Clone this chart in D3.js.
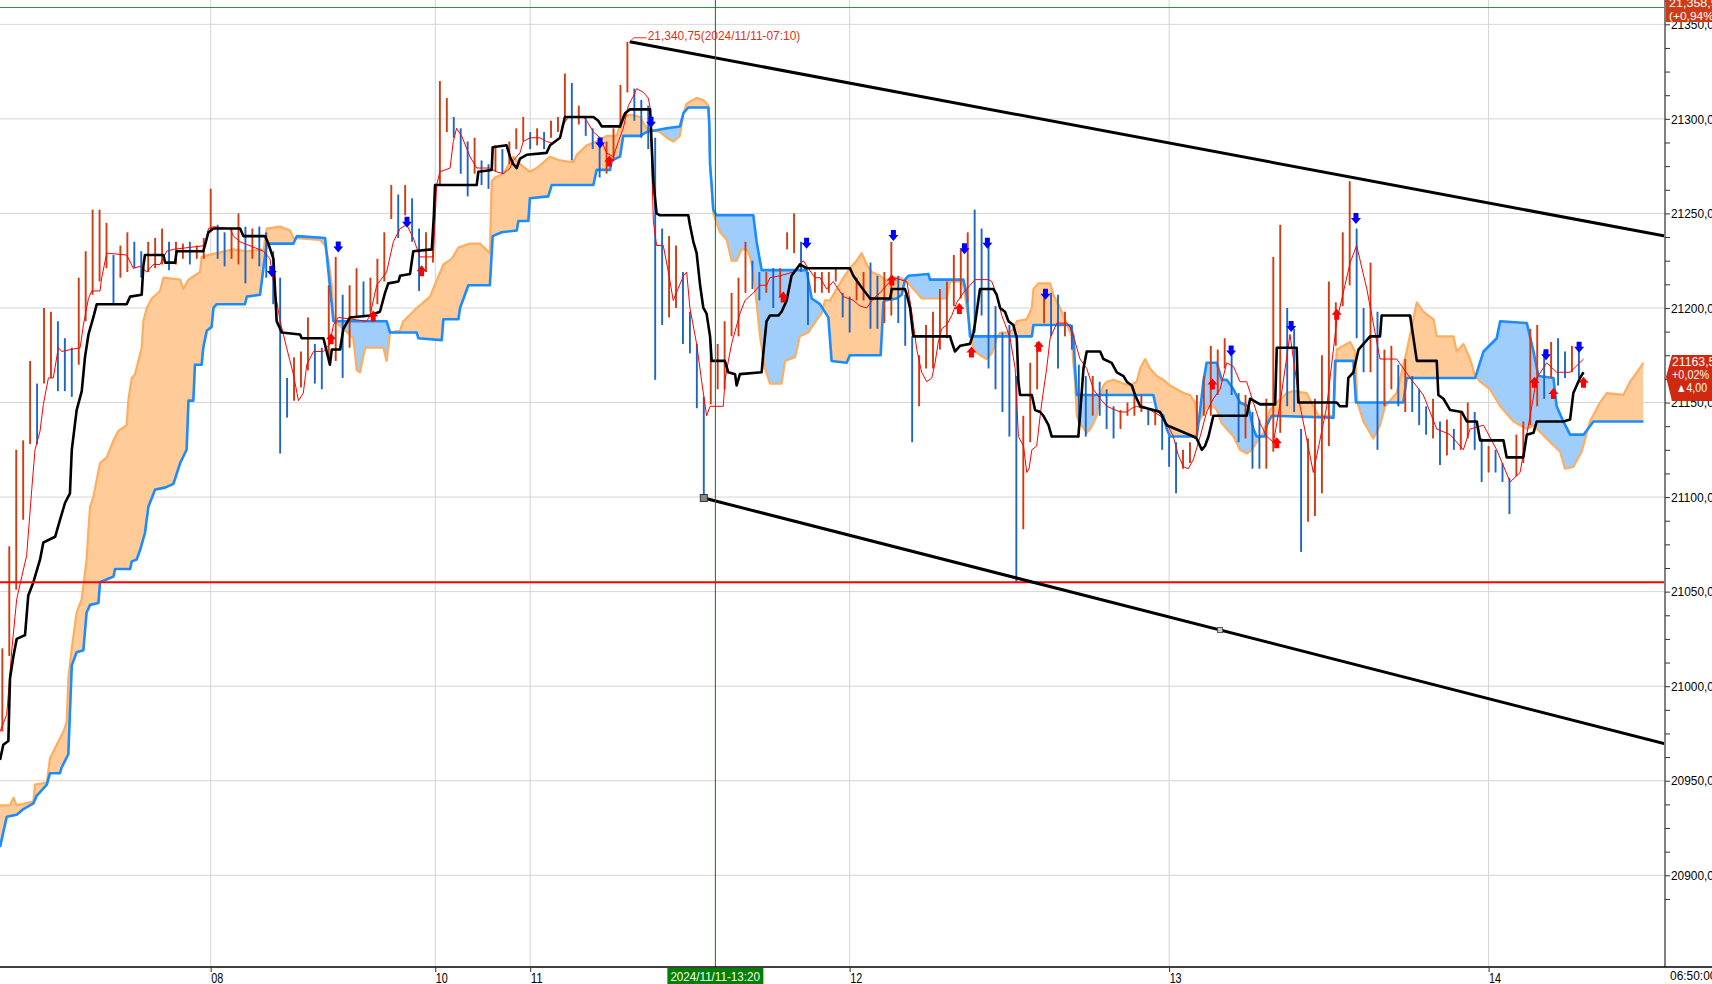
<!DOCTYPE html>
<html><head><meta charset="utf-8">
<script src="https://cdn.jsdelivr.net/npm/d3@7"></script>
<style>
html,body{margin:0;padding:0;background:#fff;overflow:hidden;}
svg{display:block;}
text{font-family:"Liberation Sans Narrow","Arial Narrow","Liberation Sans",sans-serif;}
</style></head><body>
<svg id="chart" width="1712" height="984"></svg>
<script>
// ---------------- DATA ----------------
// day labels on the time axis and the bar index (10-minute bars) where each day starts
const dayLabels = ["08","10","11","12","13","14"];
const dayStartBars = [0, 97, 138, 276, 414, 552];
// price axis labels
const priceTicks = [20900,20950,21000,21050,21100,21150,21200,21250,21300,21350];
const priceMinorStep = 12.5;

// price bars, sampled every 3 ten-minute bars starting at bar -90
const barStart = -90, barStep = 3;
const highs = [
21020,21074,21125,21130,21172,21160,21200,21198,21193,21184,
21179,21216,21230,21252,21252,21245,21228,21233,21240,21235,
21230,21235,21237,21242,21235,21235,21234,21235,21233,21237,
21263,21244,21240,21242,21250,21243,21242,21243,21240,21230,
21216,21163,21174,21177,21195,21181,21179,21212,21227,21207,
21212,21221,21214,21216,21226,21240,21265,21260,21265,21258,
21242,21240,21238,21320,21311,21301,21295,21288,21290,21278,
21276,21286,21284,21288,21295,21301,21293,21295,21293,21299,
21301,21324,21319,21307,21301,21295,21290,21288,21295,21318,
21340.75,21316,21310,21307,21290,21242,21238,21233,21219,21198,
21181,21153,21181,21181,21193,21208,21216,21235,21225,21219,
21219,21221,21221,21240,21250,21235,21219,21219,21219,21219,
21221,21208,21206,21216,21219,21224,21217,21219,
21235,21217,21207,21185,21175,21191,21198,21210,21214,21228,21231,21240,
21252,21242,21233,21201,21187,21191,21164,21143,21171,21182,
21210,21208,21207,21198,21191,21170,21164,21164,21161,21157,
21148,21146,21150,21154,21154,21146,21146,21143,21132,21129,
21125,21129,21154,21164,21180,21178,21184,21175,21155,21154,
21145,21141,21152,21227,21244,21200,21189,21136,21131,21152,
21175,21214,21203,21240,21267,21242,21200,21224,21198,21178,
21180,21170,21173,21164,21157,21148,21152,21140,21141,21136,
21145,21150,21145,21131,21127,21125,21118,21110,21133,21140,
21189,21191,21177,21182,21184,21177,21180,21182];
const lows = [
20976,21016,21051,21088,21128,21128,21160,21163,21156,21156,
21153,21170,21193,21207,21214,21221,21202,21216,21219,21221,
21216,21219,21221,21223,21220,21223,21226,21223,21226,21226,
21240,21226,21222,21226,21223,21213,21226,21222,21216,21202,
21123,21142,21151,21158,21167,21160,21157,21174,21172,21163,
21179,21195,21195,21198,21202,21214,21247,21237,21249,21235,
21209,21219,21224,21265,21293,21290,21271,21259,21271,21265,
21263,21272,21271,21276,21284,21288,21284,21286,21284,21290,
21293,21301,21278,21297,21291,21284,21269,21271,21278,21295,
21314,21299,21290,21284,21162,21191,21195,21200,21181,21176,
21147,21099.5,21149,21157,21157,21185,21185,21208,21210,21204,
21208,21200,21206,21231,21229,21219,21191,21208,21208,21208,
21214,21195,21187,21204,21204,21189,21189,21192,
21196,21192,21180,21129,21148,21168,21168,21178,21184,21201,21205,21203,
21187,21196,21168,21157,21145,21132,21055,21083,21129,21157,
21192,21185,21168,21185,21178,21139,21132,21143,21143,21136,
21131,21136,21143,21143,21145,21138,21138,21125,21116,21102,
21115,21118,21132,21143,21143,21154,21168,21154,21129,21131,
21115,21115,21115,21124,21134,21148,21145,21071,21087,21090,
21102,21127,21180,21201,21212,21184,21166,21166,21125,21148,
21157,21148,21145,21145,21138,21133,21131,21117,21122,21125,
21125,21131,21125,21108,21113,21113,21108,21091,21111,21118,
21138,21148,21152,21163,21159,21163,21166,21163];

// Ichimoku lines: [bar index, price]
const tenkan = [[-91,20976],[-88.1,20985],[-86,21018],[-83.8,21046],[-81.6,21058],[-79.5,21069],[-77.3,21104],[-75.9,21125],[-73.7,21135],[-72.3,21149],[-70.1,21163],[-68,21163],[-65.8,21179],[-64.4,21177],[-56.4,21179],[-55,21191],[-52.8,21205],[-51.4,21209],[-47.8,21209],[-47.1,21216],[-44.9,21229],[-36.3,21228],[-33.4,21221],[-30.5,21222],[-27.6,21219],[-24.8,21223],[-21.9,21223],[-19,21230],[-16.1,21231],[-2.4,21233],[-1,21242],[1.2,21243],[8.4,21242],[9.8,21238],[12.7,21235],[22.8,21230],[25.6,21226],[27.1,21214],[30,21193],[32.8,21179],[35.7,21165],[37.9,21151],[40,21155],[41.5,21170],[44.4,21177],[48.7,21177],[51.5,21181],[53,21191],[55.1,21195],[67.4,21193],[68.8,21196],[71.7,21212],[76,21219],[78.9,21235],[81.8,21242],[84.7,21244],[87.5,21237],[90.4,21227],[96.2,21227],[97.6,21265],[99,21272],[103.4,21274],[104.8,21288],[106.2,21295],[108.4,21291],[112,21280],[114.9,21274],[120.6,21274],[123.5,21272],[126.4,21271],[129.3,21274],[130.7,21278],[133.6,21282],[135,21288],[137.9,21290],[142.2,21290],[145.1,21288],[148,21287],[150.9,21290],[152.3,21297],[154.5,21301],[161,21301],[162.4,21299],[165.3,21293],[168.2,21290],[171,21282],[173.9,21280],[176.1,21288],[178.2,21295],[180.4,21307],[182.6,21312],[184,21316],[186.9,21314],[189,21311],[189.8,21306],[191.2,21246],[192.6,21233],[195.5,21233],[197.7,21219],[199.8,21204],[204.2,21217],[205.6,21219],[207,21200],[209.9,21181],[212.1,21161],[214.2,21143],[215.7,21148],[221.4,21148],[222.2,21162],[223.6,21172],[225,21181],[228.6,21197],[230.8,21204],[234.4,21208],[237.3,21212],[240.1,21212],[241.6,21216],[245.9,21217],[251.7,21219],[254.5,21223],[256,21225],[258.1,21221],[261,21216],[263.2,21216],[266.1,21210],[268.9,21214],[273.3,21206],[277.6,21204],[280.5,21201],[283.4,21200],[286.3,21205],[289.1,21208],[292,21212],[294.9,21216],[297.8,21215],[300.7,21214],[302.8,21198],[305,21178],[307.1,21166],[309.3,21161],[311.5,21163],[312.9,21171],[314.3,21182],[315.8,21189],[317.9,21191],[320.1,21196],[322.3,21203],[325.1,21208],[328,21212],[330.2,21215],[335.9,21215],[337.4,21214],[339.5,21207],[341.7,21196],[343.9,21189],[345.3,21184],[347.5,21168],[348.9,21132],[351.1,21127],[352.5,21113],[353.5,21115],[354.7,21125],[356.8,21127],[358.3,21143],[359,21150],[361.1,21168],[362.6,21184],[365.5,21192],[369.8,21192],[371.2,21190],[373.4,21182],[375.5,21173],[378.4,21168],[381.3,21157],[384.2,21152],[387.1,21148],[392.8,21145],[395.7,21145],[397.9,21147],[400,21148],[402.2,21147],[404.3,21147],[407.2,21145],[410.1,21143],[413,21139],[415.8,21132],[418,21122],[420.2,21116],[422.3,21115],[424.5,21120],[427.4,21132],[430.2,21145],[433.1,21152],[436,21157],[438.9,21171],[441.8,21169],[444.6,21161],[447.5,21161],[450.4,21150],[453.3,21139],[456.2,21132],[459.1,21129],[462,21150],[466.2,21186],[470.6,21148],[476.3,21113],[482.1,21148],[486.4,21193],[492.2,21224],[495,21233],[499.4,21210],[505.1,21173],[512.3,21173],[518.1,21163],[523.8,21154],[529.6,21136],[535.4,21133],[541.1,21125],[544,21136],[549.8,21138],[555.5,21125],[561.3,21108],[565.6,21113],[568.5,21133],[572.8,21163],[577.1,21171],[581.4,21166],[587.2,21166],[593,21173]];

const kijun = [[-91,20961],[-89.6,20969],[-87.4,20971],[-86.7,21004],[-85.2,21016],[-83.8,21025],[-80.2,21027],[-78.8,21048],[-76.6,21055],[-73.7,21067],[-72.3,21076],[-67.2,21079],[-65.1,21088],[-62.9,21097],[-60.8,21102],[-60,21125],[-57.9,21146],[-55.7,21156],[-54.3,21174],[-52.8,21186],[-50.7,21195],[-49.2,21202],[-36.3,21202],[-34.8,21206],[-29.8,21207],[-29.1,21222],[-28.4,21228],[-20.4,21228],[-19.7,21224],[-15.4,21224],[-14.7,21230],[-3.2,21230],[-1,21240],[1.2,21242],[12.7,21242],[14.1,21238],[23.5,21238],[24.9,21234],[27.1,21226],[28.5,21193],[30.7,21187],[38.6,21186],[39.3,21184],[48.7,21184],[50.1,21177],[51.5,21170],[52.3,21178],[55.9,21178],[57.3,21189],[60.2,21195],[68.8,21196],[73.1,21198],[75.3,21208],[76.7,21213],[81.1,21214],[81.8,21217],[86.1,21218],[87.5,21230],[95.5,21231],[96.4,21249],[96.9,21265],[114.9,21265],[115.6,21272],[121.4,21273],[121.8,21285],[127.8,21286],[129.3,21280],[130.7,21276],[132.2,21274],[133.6,21279],[136.5,21281],[145.1,21282],[146.6,21286],[150.9,21290],[153,21301],[165.3,21301],[167.4,21299],[168.9,21296],[176.8,21296],[179,21303],[181.1,21305],[189.8,21305],[191.2,21267],[192.6,21250],[194.1,21249],[206.3,21249],[207,21244],[208.5,21235],[209.9,21229],[211.4,21212],[212.8,21200],[214.2,21197],[215.7,21185],[216.4,21172],[222.1,21172],[223.6,21166],[226.5,21165],[227.2,21159],[228.6,21165],[238,21166],[238.7,21176],[240.1,21193],[241.6,21196],[245.2,21196],[246.6,21198],[248.8,21204],[250.9,21217],[254.5,21223],[257.4,21221],[276.1,21221],[277.6,21217],[280.5,21212],[284.8,21205],[293.5,21205],[294.2,21210],[299.9,21210],[300.7,21207],[302.1,21200],[303.5,21185],[319.4,21185],[320.1,21182],[321.5,21177],[323.7,21180],[328,21181],[329.5,21187],[330.2,21192],[332.3,21210],[338.1,21210],[339.5,21207],[341,21200],[343.1,21198],[344.6,21193],[346.7,21191],[348.2,21184],[348.9,21161],[349.6,21154],[354.7,21154],[356.1,21146],[358.3,21145],[359.7,21143],[361.9,21138],[363.3,21132],[374.8,21132],[375.5,21143],[377,21168],[378.4,21177],[384.2,21177],[385.6,21173],[389.2,21171],[391.4,21166],[394.3,21164],[395.7,21161],[397.9,21159],[399.3,21154],[401.5,21148],[404.3,21147],[407.2,21146],[410.1,21145],[413,21138],[424.5,21132],[425.9,21131],[428.1,21125],[429.5,21127],[431,21132],[433.1,21143],[447.5,21143],[449,21152],[453.3,21149],[459.8,21149],[460.5,21179],[469.1,21179],[469.8,21150],[486.4,21150],[487.8,21148],[490.7,21148],[491.4,21163],[493.6,21166],[495.8,21178],[500.8,21185],[505.1,21185],[505.8,21196],[518.1,21196],[521,21172],[529.6,21172],[530.3,21154],[532.5,21152],[535.4,21146],[540.4,21145],[542.6,21140],[546.9,21140],[548.3,21130],[558.4,21130],[559.8,21121],[567,21121],[568.5,21133],[571.4,21134],[572.8,21140],[584.3,21140],[587.2,21141],[588.6,21155],[591.5,21163],[593,21166]];

const spanA = [[-91,20937],[-86.7,20937],[-85.2,20941],[-83.8,20937],[-76.6,20939],[-75.9,20948],[-70.8,20949],[-69.4,20962],[-66.5,20969],[-63.6,20976],[-62.2,20981],[-61.5,21004],[-60,21020],[-57.9,21039],[-55.7,21046],[-53.6,21067],[-52.8,21083],[-52.1,21095],[-50.7,21100],[-47.8,21118],[-44.9,21121],[-42,21130],[-39.9,21135],[-36.3,21138],[-35.6,21151],[-34.1,21163],[-32.7,21165],[-29.8,21179],[-29.1,21193],[-27.6,21200],[-25.5,21205],[-21.9,21209],[-20.4,21216],[-13.2,21215],[-11.8,21210],[-9.6,21215],[-4.6,21219],[-3.9,21227],[2.6,21229],[9.8,21231],[15.6,21230],[22.8,21231],[24.2,21242],[30,21243],[34.3,21241],[35.7,21237],[47.2,21236],[49.4,21233],[50.8,21226],[52.3,21212],[53,21195],[54.4,21192],[57.3,21189],[61.6,21184],[63.1,21167],[64.5,21166],[66.7,21179],[74.6,21179],[76,21172],[77.5,21187],[81.8,21188],[83.2,21193],[89,21200],[94.7,21206],[100.5,21223],[104.1,21226],[107,21232],[112,21234],[116.3,21234],[120.6,21229],[121.4,21267],[122.8,21269],[126.4,21271],[130.7,21280],[133.6,21276],[137.9,21272],[140.8,21274],[146.6,21280],[150.9,21278],[156.6,21277],[158.1,21281],[162.4,21286],[166.7,21288],[171,21291],[175.4,21291],[176.8,21297],[178.2,21302],[182.6,21302],[185.4,21301],[188.3,21295],[194.1,21293],[197,21290],[199.8,21288],[202.7,21291],[204.2,21303],[205.6,21308],[209.9,21311],[212.8,21310],[215,21307],[215.7,21276],[217.1,21250],[220,21240],[222.9,21236],[225,21225],[227.2,21225],[229.3,21231],[231.5,21231],[233,21227],[234.4,21219],[237.3,21185],[239.4,21168],[241.6,21160],[246.6,21160],[248.1,21172],[252.4,21174],[254.5,21185],[258.1,21187],[262.5,21195],[263.9,21197],[265.3,21204],[267.5,21204],[270.4,21210],[273.3,21216],[276.1,21221],[279,21225],[281.2,21229],[283.4,21223],[285.5,21219],[289.1,21217],[291.3,21215],[293.5,21214],[294.9,21216],[297.8,21216],[300.7,21214],[302.1,21212],[305,21208],[307.1,21205],[317.9,21205],[319.4,21214],[323.7,21214],[325.1,21212],[328,21189],[329.5,21178],[332.3,21175],[335.2,21173],[337.4,21176],[339.5,21184],[341,21187],[345.3,21187],[346.7,21189],[348.2,21193],[352.5,21194],[354.7,21200],[355.4,21210],[357.5,21213],[362.6,21213],[364,21207],[366.9,21200],[369.8,21192],[371.9,21185],[372.7,21170],[373.4,21161],[374.1,21143],[375.5,21139],[378.4,21134],[379.9,21136],[381.3,21139],[382.7,21143],[383.5,21150],[385.6,21159],[387.1,21161],[389.9,21162],[394.3,21160],[397.1,21159],[400,21161],[401.5,21168],[403.6,21173],[405.8,21168],[408.6,21164],[411.5,21162],[414.4,21159],[417.3,21157],[420.2,21155],[423,21154],[425.2,21150],[425.9,21143],[426.6,21139],[430.2,21148],[433.1,21148],[434.6,21146],[436.7,21139],[438.9,21136],[441.8,21132],[444.6,21125],[447.5,21123],[449.7,21125],[451.8,21129],[454.7,21134],[457.6,21146],[460.5,21150],[464.8,21155],[467.7,21156],[473.4,21155],[476.3,21148],[478.5,21143],[485,21143],[486.4,21178],[492.2,21182],[494.3,21177],[495.3,21150],[497.9,21140],[502.2,21131],[505.1,21138],[507.3,21148],[512.3,21155],[516.6,21177],[521,21203],[523.8,21198],[528.2,21194],[529.6,21185],[536.8,21185],[538.2,21177],[541.1,21181],[544,21173],[546.2,21164],[548.3,21161],[552.6,21157],[557,21148],[562.7,21140],[568.5,21136],[571.4,21138],[578.6,21129],[582.9,21124],[585,21115],[588.6,21116],[592.2,21124],[595.8,21140],[600.1,21150],[603,21155],[610.2,21154],[613.1,21161],[616,21166],[618.9,21171]];

const spanB = [[-91,20915],[-88.1,20931],[-83.8,20932],[-80.9,20935],[-76.6,20938],[-75.2,20942],[-70.8,20948],[-69.4,20954],[-65.1,20954],[-64.4,20957],[-61.5,20964],[-60,21011],[-57.9,21018],[-55,21019],[-53.6,21039],[-52.1,21043],[-48.5,21044],[-47.8,21055],[-42,21058],[-41.3,21062],[-34.8,21062],[-34.1,21066],[-32,21067],[-30.5,21072],[-28.4,21081],[-26.9,21095],[-24,21104],[-19.7,21105],[-16.1,21107],[-13.2,21118],[-10.4,21125],[-9.6,21151],[-7.5,21151],[-6.8,21170],[-3.9,21170],[-3.2,21179],[-1.7,21188],[0.4,21190],[1.2,21200],[2.6,21202],[14.8,21202],[15.6,21206],[21.3,21207],[23.5,21228],[24.2,21234],[35.7,21234],[37.2,21238],[49.4,21237],[50.8,21220],[53,21193],[76,21193],[77.5,21187],[89,21187],[89.7,21184],[99.8,21183],[100.5,21194],[107,21194],[107.7,21200],[111.3,21212],[120.6,21212],[121.8,21238],[125.7,21240],[132.2,21241],[132.9,21246],[137.2,21246],[137.9,21258],[145.8,21259],[147.3,21265],[165.3,21265],[166,21269],[166.7,21273],[172.5,21273],[173.2,21278],[176.8,21280],[178.2,21291],[185.4,21291],[188.3,21293],[197,21295],[202.7,21296],[204.2,21303],[206.3,21306],[215,21306],[215.4,21297],[215.7,21276],[216.4,21265],[217.1,21252],[218.5,21249],[234.4,21249],[235.8,21235],[238,21220],[257.4,21220],[259.6,21205],[263.2,21202],[266.8,21195],[268.2,21172],[274.7,21171],[276.1,21175],[289.4,21175],[290.6,21203],[291.3,21204],[296.3,21205],[298.5,21207],[299.9,21215],[301.4,21217],[310,21218],[310.7,21215],[325.1,21215],[326.6,21207],[328,21185],[354.7,21185],[355.4,21191],[371.2,21191],[372.7,21185],[373.4,21168],[374.1,21154],[407.2,21154],[408.6,21146],[411.5,21143],[413,21136],[414.4,21132],[425.9,21132],[427.4,21146],[428.8,21161],[430.2,21171],[434.6,21171],[436.7,21162],[438.9,21162],[441.8,21157],[444.6,21150],[448.2,21148],[450.4,21136],[451.8,21132],[455.4,21132],[456.2,21138],[458.3,21143],[485,21142],[485.7,21172],[493.6,21172],[494.7,21150],[515.2,21150],[516.6,21163],[546.2,21163],[549.8,21177],[555.5,21184],[557,21193],[568.5,21192],[571.4,21177],[573.5,21164],[580,21163],[581.4,21148],[584.3,21140],[587.2,21133],[593,21133],[597.3,21140],[618.9,21140]];

// signals [bar index, price]
const sellSignals = [[26.4,21219],[55.1,21232],[84.8,21245],[168.2,21287],[190.2,21298],[257.4,21234],[294.9,21238],[325.6,21231],[335.5,21234],[360.6,21207],[440.8,21177],[466.7,21190],[494.7,21247],[576.8,21175],[591.1,21179]];
const buySignals = [[52,21184],[70.2,21196],[91.1,21220],[172.2,21278],[247.3,21206],[294.2,21215],[323.4,21200],[328.6,21177],[357.7,21180],[432.7,21160],[460.5,21129],[486.4,21197],[571.8,21161],[580,21155],[593,21161]];

// trend channel anchors and reference levels
const channelTop = [[181,21340.75],[492,21269.3]];
const channelBottom = [[213,21099.5],[436,21029.7]];
const supportLevel = 21055;
const prevHighLevel = 21358.9;
const cursorBar = 218;
const highLabel = "21,340,75(2024/11/11-07:10)";
const cursorLabel = "2024/11/11-13:20";
const lastTimeLabel = "06:50:00";
const topTag = ["21,358,9","(+0,94%)"];
const lastTag = ["21163,5","+0,02%","\u25B24,00"];
const lastPrice = 21163.5;

// ---------------- CHART ----------------
const W = 1712, H = 984, plotR = 1665, plotB = 967;
const FONT = '"Liberation Sans Narrow","Arial Narrow","Liberation Sans",sans-serif';
const svg = d3.select("#chart");
const x = d3.scaleLinear().domain([0, 552]).range([210.7, 1488.6]);
const y = d3.scaleLinear().domain([20900, 21350]).range([875.3, 24.3]);
const bMax = x.invert(plotR);

// narrow text: fixed advance per character
function narrow(sel, cw){
  sel.attr("textLength", function(){ return this.textContent.length * cw; })
     .attr("lengthAdjust","spacingAndGlyphs");
}

const defs = svg.append("defs");
defs.append("clipPath").attr("id","plotClip").append("rect")
  .attr("x",0).attr("y",0).attr("width",plotR).attr("height",plotB);

svg.append("rect").attr("width",W).attr("height",H).attr("fill","#fff");

// grid
const grid = svg.append("g");
grid.selectAll("line.h").data(priceTicks).join("line")
  .attr("x1",0).attr("x2",plotR).attr("y1",d=>y(d)).attr("y2",d=>y(d))
  .attr("stroke","#d4d4d4").attr("stroke-width",1);
grid.selectAll("line.v").data(dayStartBars).join("line")
  .attr("x1",d=>x(d)).attr("x2",d=>x(d)).attr("y1",0).attr("y2",plotB)
  .attr("stroke","#d4d4d4").attr("stroke-width",1);

const plot = svg.append("g").attr("clip-path","url(#plotClip)");

// cloud fills
const X = d => x(d[0]), Y = d => y(d[1]);
defs.append("clipPath").attr("id","aboveB").append("path")
  .attr("d", d3.area().x(X).y0(0).y1(Y)(spanB));
defs.append("clipPath").attr("id","aboveA").append("path")
  .attr("d", d3.area().x(X).y0(0).y1(Y)(spanA));
plot.append("path").attr("d", d3.area().x(X).y0(plotB).y1(Y)(spanA))
  .attr("fill","#ffcc99").attr("clip-path","url(#aboveB)");
plot.append("path").attr("d", d3.area().x(X).y0(plotB).y1(Y)(spanB))
  .attr("fill","#9fcdfc").attr("clip-path","url(#aboveA)");

const line = d3.line().x(X).y(Y);
plot.append("path").attr("d", line(spanA)).attr("fill","none")
  .attr("stroke","#ffad5e").attr("stroke-width",2.2).attr("stroke-linejoin","round");
plot.append("path").attr("d", line(spanB)).attr("fill","none")
  .attr("stroke","#1a8cff").attr("stroke-width",2.6).attr("stroke-linejoin","round");

// price bars
const bars = highs.map((h,i)=>({b: barStart + i*barStep, h, l: lows[i]}));
bars.forEach((d,i)=>{
  const prev = i>0 ? bars[i-1] : d;
  d.up = (d.h + d.l) >= (prev.h + prev.l);
});
plot.selectAll("line.bar").data(bars).join("line")
  .attr("x1",d=>x(d.b)).attr("x2",d=>x(d.b))
  .attr("y1",d=>y(d.h)).attr("y2",d=>y(d.l))
  .attr("stroke",d=>d.up ? "#d23a10" : "#1c66c8").attr("stroke-width",1.9);

// tenkan / kijun
plot.append("path").attr("d", line(tenkan)).attr("fill","none")
  .attr("stroke","#ff0000").attr("stroke-width",1);
plot.append("path").attr("d", line(kijun)).attr("fill","none")
  .attr("stroke","#000").attr("stroke-width",2.6).attr("stroke-linejoin","round");

// signals
const sellArrow = "M-2.5,-6 L2.5,-6 L2.5,-1 L5,-1 L0,5 L-5,-1 L-2.5,-1 Z";
const buyArrow = "M-2.5,6 L2.5,6 L2.5,1 L5,1 L0,-5 L-5,1 L-2.5,1 Z";
plot.selectAll("path.sell").data(sellSignals).join("path")
  .attr("d",sellArrow).attr("transform",d=>`translate(${X(d)},${Y(d)})`).attr("fill","#0000ff");
plot.selectAll("path.buy").data(buySignals).join("path")
  .attr("d",buyArrow).attr("transform",d=>`translate(${X(d)},${Y(d)})`).attr("fill","#ff0000");

// horizontal levels
plot.append("line").attr("x1",0).attr("x2",plotR).attr("y1",y(supportLevel)).attr("y2",y(supportLevel))
  .attr("stroke","#ff0000").attr("stroke-width",2);
plot.append("line").attr("x1",0).attr("x2",plotR).attr("y1",y(prevHighLevel)).attr("y2",y(prevHighLevel))
  .attr("stroke","#2f8f2f").attr("stroke-width",1);

// channel lines, extended to the right edge
function extend(p){
  const s = (p[1][1]-p[0][1])/(p[1][0]-p[0][0]);
  return [p[0], [bMax, p[0][1] + s*(bMax-p[0][0])]];
}
plot.append("path").attr("d", line(extend(channelTop))).attr("stroke","#000").attr("stroke-width",3).attr("fill","none");
plot.append("path").attr("d", line(extend(channelBottom))).attr("stroke","#000").attr("stroke-width",3).attr("fill","none");
plot.append("rect").attr("x",X(channelBottom[0])-3.5).attr("y",Y(channelBottom[0])-3.5).attr("width",7).attr("height",7)
  .attr("fill","#888").attr("stroke","#333").attr("stroke-width",1);
plot.append("rect").attr("x",X(channelBottom[1])-2.5).attr("y",Y(channelBottom[1])-2.5).attr("width",5).attr("height",5)
  .attr("fill","#ccc").attr("stroke","#555").attr("stroke-width",1);

// high label
const hx = X(channelTop[0]), hy = Y(channelTop[0]);
plot.append("path").attr("d",`M${hx},${hy} L${hx+4},${hy-4} L${hx+17},${hy-4}`)
  .attr("stroke","#e0301c").attr("fill","none").attr("stroke-width",1);
svg.append("text").attr("x",hx+18).attr("y",hy-1.5).text(highLabel)
  .attr("fill","#e0301c").attr("font-size",13).call(narrow, 5.65);

// cursor line
svg.append("line").attr("x1",x(cursorBar)).attr("x2",x(cursorBar)).attr("y1",0).attr("y2",plotB)
  .attr("stroke","#008000").attr("stroke-width",1);

// axes
svg.append("line").attr("x1",plotR).attr("x2",plotR).attr("y1",0).attr("y2",plotB)
  .attr("stroke","#808080").attr("stroke-width",2);
svg.append("line").attr("x1",0).attr("x2",W).attr("y1",plotB).attr("y2",plotB)
  .attr("stroke","#000").attr("stroke-width",1.5);

const minorTicks = d3.range(priceTicks[0]-priceMinorStep, priceTicks[priceTicks.length-1]+priceMinorStep*1.5, priceMinorStep);
const yAxis = d3.axisRight(y).tickValues(minorTicks).tickSize(5).tickSizeOuter(0).tickPadding(1)
  .tickFormat(d => priceTicks.includes(d) ? d.toFixed(2).replace(".", ",") : "");
const ya = svg.append("g").attr("transform",`translate(${plotR},0)`).call(yAxis);
ya.select(".domain").remove();
ya.selectAll("line").attr("stroke","#333");
ya.selectAll("text").attr("font-size",13).attr("fill","#000").attr("font-family",FONT)
  .filter(function(){return this.textContent.length>0;}).call(narrow, 6.2);

const xAxis = d3.axisBottom(x).tickValues(dayStartBars).tickSize(5).tickSizeOuter(0).tickPadding(1)
  .tickFormat((d,i)=>dayLabels[i]);
const xa = svg.append("g").attr("transform",`translate(0,${plotB})`).call(xAxis);
xa.select(".domain").remove();
xa.selectAll("line").attr("stroke","#333");
xa.selectAll("text").attr("font-size",14).attr("fill","#000").attr("text-anchor","start").attr("dx",0)
  .attr("font-family",FONT).call(narrow, 6);

svg.append("text").attr("x",plotR+5).attr("y",980).text(lastTimeLabel).attr("font-size",13).attr("fill","#000").call(narrow, 5.8);

// cursor time tag
const cx = x(cursorBar);
svg.append("rect").attr("x",cx-48).attr("y",plotB+1).attr("width",96).attr("height",17).attr("fill","#008000");
svg.append("text").attr("x",cx-45).attr("y",980.5).text(cursorLabel)
  .attr("fill","#fff").attr("font-size",13).call(narrow, 5.6);

// top-right tag
svg.append("rect").attr("x",plotR+1).attr("y",0).attr("width",W-plotR).attr("height",22).attr("fill","#cf3a17");
svg.selectAll("text.tt").data(topTag).join("text").attr("class","tt").attr("x",plotR+4).attr("y",(d,i)=>7+i*13)
  .text(d=>d).attr("fill","#fff").attr("font-size",10.5).call(narrow, 6.1);

// last price tag
const ly = y(lastPrice);
svg.append("path").attr("d",`M${plotR+1},${ly} L${plotR+7},${ly-22} L${W},${ly-22} L${W},${ly+24} L${plotR+7},${ly+24} Z`)
  .attr("fill","#cf2a10");
svg.selectAll("text.lt").data(lastTag).join("text").attr("class","lt").attr("x",(d,i)=>plotR+7+(i===2?4:0)).attr("y",(d,i)=>ly-11+i*13)
  .text(d=>d).attr("fill","#fff").attr("font-size",12).call(narrow, 6.2);
</script>
</body></html>
